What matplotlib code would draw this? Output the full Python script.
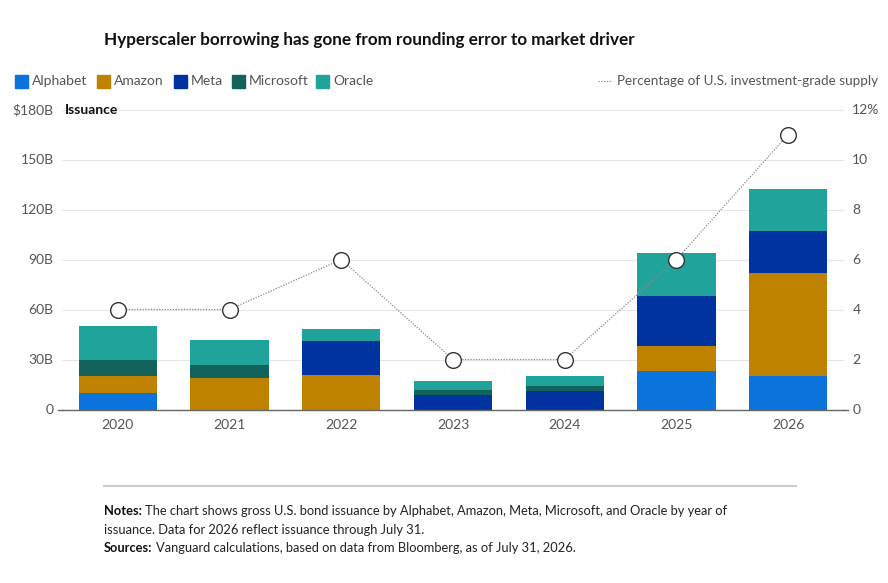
import matplotlib
matplotlib.use("Agg")
import matplotlib.pyplot as plt
import numpy as np
from matplotlib.patches import Rectangle
from matplotlib.lines import Line2D

plt.rcParams['font.family'] = ['Lato', 'DejaVu Sans']

years = ["2020", "2021", "2022", "2023", "2024", "2025", "2026"]
companies = ["Alphabet", "Amazon", "Meta", "Microsoft", "Oracle"]
alphabet = [10, 0, 0, 0, 0, 23, 20]
amazon = [10, 19, 21, 0, 0, 15, 62]
meta = [0, 0, 20, 9, 11, 30, 25]
microsoft = [10, 8, 0, 3, 3, 0, 0]
oracle = [20, 15, 7, 5, 6, 26, 25]
pct_supply = [4, 4, 6, 2, 2, 6, 11]

left_ticks = [0, 30, 60, 90, 120, 150, 180]
left_labels = ["0", "30B", "60B", "90B", "120B", "150B", "$180B"]
right_ticks = [0, 2, 4, 6, 8, 10, 12]
right_labels = ["0", "2", "4", "6", "8", "10", "12%"]

colors = ["#0B74DC", "#BF8200", "#0033A0", "#14625C", "#20A39B"]
series = [alphabet, amazon, meta, microsoft, oracle]

W, H = 888, 583
fig = plt.figure(figsize=(W / 100, H / 100), dpi=100)

def fx(x):
    return x / W

def fy(y):
    return 1 - y / H

ax_l, ax_r, ax_t, ax_b = 62, 844, 109.5, 409.5
ax = fig.add_axes([fx(ax_l), fy(ax_b), fx(ax_r - ax_l), (ax_b - ax_t) / H])
x = np.arange(len(years))
bottom = np.zeros(len(years))
for vals, c in zip(series, colors):
    v = np.array(vals, dtype=float)
    ax.bar(x, v, bottom=bottom, width=0.70, color=c, zorder=2, linewidth=0)
    bottom += v

ax.set_xlim(-0.5, len(years) - 0.5)
ax.set_ylim(0, 180)
ax.set_yticks(left_ticks)
ax.set_yticklabels(left_labels)
ax.set_xticks(x)
ax.set_xticklabels(years)
for s in ax.spines.values():
    s.set_visible(False)
ax.grid(axis='y', color='#e6e6e6', linewidth=0.8, zorder=0)
ax.tick_params(axis='y', length=0, pad=6, labelsize=10, labelcolor='#555555')
ax.tick_params(axis='x', length=0, pad=7, labelsize=10, labelcolor='#555555')
ax.axhline(0, color='#666666', linewidth=1.0, zorder=3, clip_on=False)

ax2 = ax.twinx()
ax2.set_ylim(0, 12)
ax2.set_yticks(right_ticks)
ax2.set_yticklabels(right_labels)
for s in ax2.spines.values():
    s.set_visible(False)
ax2.tick_params(axis='y', length=0, pad=6, labelsize=10, labelcolor='#555555')
ax2.plot(x, pct_supply, linestyle=(0, (1, 1.2)), color='#8a8a8a', linewidth=0.9,
         marker='o', markersize=11.3, markerfacecolor='white',
         markeredgecolor='#333333', markeredgewidth=1.0, zorder=4)

# small tick stubs at baseline
fig.add_artist(Line2D([fx(58), fx(ax_l)], [fy(ax_b), fy(ax_b)], color='#666666', linewidth=1.0))
fig.add_artist(Line2D([fx(ax_r), fx(848)], [fy(ax_b), fy(ax_b)], color='#666666', linewidth=1.0))

# Issuance label
fig.text(fx(65), fy(110), "Issuance", fontsize=10, fontweight='bold', color='#111111',
         ha='left', va='center')

# Title
fig.text(fx(104), fy(40), "Hyperscaler borrowing has gone from rounding error to market driver",
         fontsize=12.3, fontweight='bold', color='#111111', ha='left', va='center')

# Legend
sq_x = [15, 97, 174, 232, 316]
for xs, name, c in zip(sq_x, companies, colors):
    fig.add_artist(Rectangle((fx(xs), fy(88)), 13 / W, 13 / H, color=c, transform=fig.transFigure))
    fig.text(fx(xs + 17), fy(81.5), name, fontsize=10, color='#555555', ha='left', va='center')

fig.add_artist(Line2D([fx(598), fx(612)], [fy(81.5), fy(81.5)], color='#8a8a8a',
                      linewidth=0.9, linestyle=(0, (1, 1.2))))
fig.text(fx(878), fy(81.5), "Percentage of U.S. investment-grade supply", fontsize=9.7,
         color='#555555', ha='right', va='center')

# Separator
fig.add_artist(Line2D([fx(104), fx(796)], [fy(486), fy(486)], color='#cccccc', linewidth=1.5))

# Notes
fs = 9.3
t1 = fig.text(fx(104), fy(511), "Notes:", fontsize=fs, fontweight='bold', color='#111111',
              ha='left', va='center')
fig.canvas.draw()
r = fig.canvas.get_renderer()
bb = t1.get_window_extent(r)
fig.text(bb.x1 / W + 3 / W, fy(511),
         "The chart shows gross U.S. bond issuance by Alphabet, Amazon, Meta, Microsoft, and Oracle by year of",
         fontsize=fs, color='#222222', ha='left', va='center')
fig.text(fx(104), fy(529.5), "issuance. Data for 2026 reflect issuance through July 31.",
         fontsize=fs, color='#222222', ha='left', va='center')
t2 = fig.text(fx(104), fy(548), "Sources:", fontsize=fs, fontweight='bold', color='#111111',
              ha='left', va='center')
bb2 = t2.get_window_extent(r)
fig.text(bb2.x1 / W + 3 / W, fy(548),
         "Vanguard calculations, based on data from Bloomberg, as of July 31, 2026.",
         fontsize=fs, color='#222222', ha='left', va='center')

fig.savefig("out.png", dpi=100)
